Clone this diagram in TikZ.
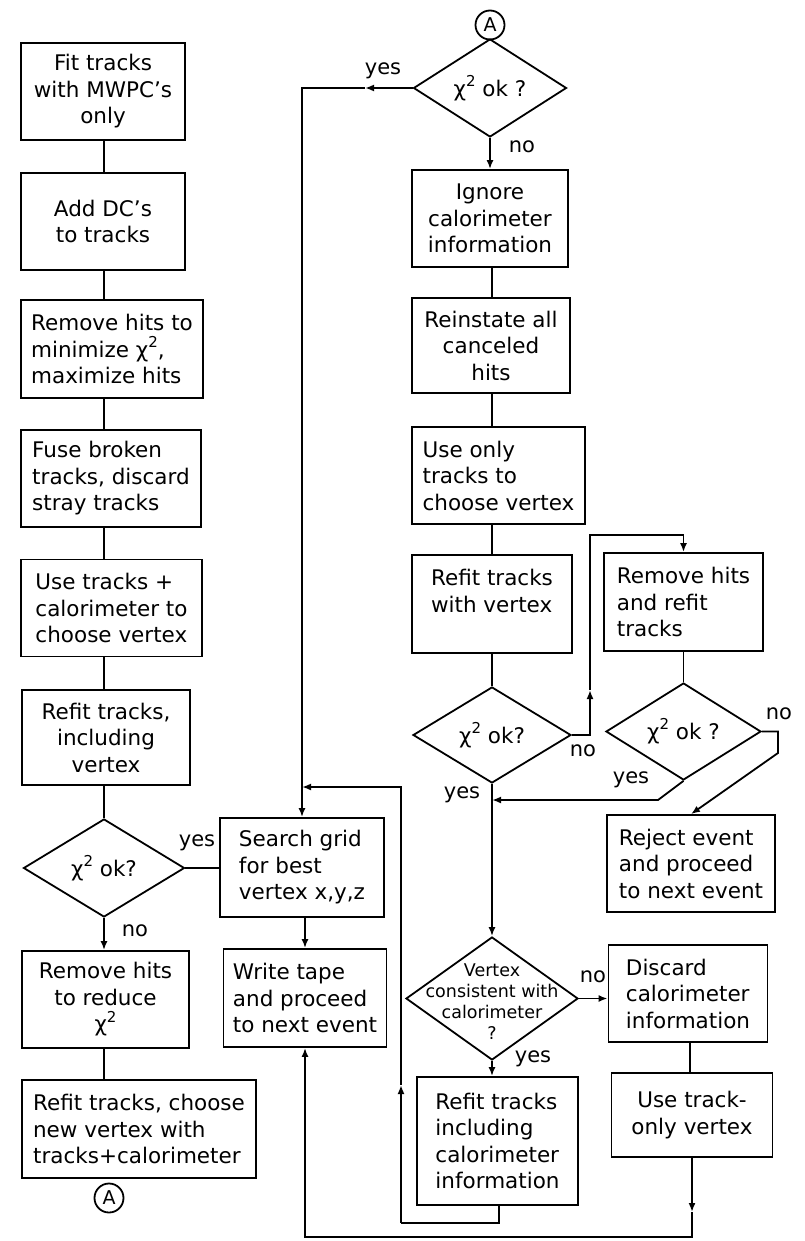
\documentclass[tikz,border=0pt]{standalone}
\usepackage{fontspec}
\setmainfont{DejaVu Sans}
\newcommand{\chisq}{χ\raisebox{0.45em}{\fontsize{15}{15}\selectfont 2}}
\usetikzlibrary{arrows.meta,shapes.geometric}
\begin{document}
\begin{tikzpicture}[x=1pt,y=-1pt,line width=1.8pt,
  every node/.style={font=\fontsize{21.5}{26.5}\selectfont},
  box/.style={draw,rectangle,inner sep=0pt},
  lbox/.style={box,align=left},
  cbox/.style={box,align=center},
  dec/.style={draw,diamond,inner sep=0pt},
  dtext/.style={align=center,inner sep=0pt},
  conn/.style={draw,circle,inner sep=0pt,minimum size=29pt,font=\fontsize{19}{19}\selectfont},
  tip/.style={-{Latex[length=9pt,width=7pt]}},
  lab/.style={inner sep=0pt,font=\fontsize{21}{21}\selectfont}]
\useasboundingbox (0,0) rectangle (805,1241);
\coordinate (lx) at (104,0);
\coordinate (mx) at (492,0);
\coordinate (rx) at (690,0);
% ---------- left column ----------
\node[cbox,minimum width=164pt,minimum height=97pt] (b1) at (103,91.5) {Fit tracks\\with MWPC’s\\only};
\node[cbox,minimum width=164pt,minimum height=97pt] (b2) at (103,221.5) {Add DC’s\\to tracks};
\node[lbox,minimum width=182pt,minimum height=98pt] (b3) at (112,349) {Remove hits to\\minimize \chisq,\\maximize hits};
\node[lbox,minimum width=180pt,minimum height=97pt] (b4) at (111,478.5) {Fuse broken\\tracks, discard\\stray tracks};
\node[lbox,minimum width=181pt,minimum height=97pt] (b5) at (111.5,608) {Use tracks +\\calorimeter to\\choose vertex};
\node[cbox,minimum width=168pt,minimum height=95pt] (b6) at (106,737.5) {Refit tracks,\\including\\vertex};
\node[dec,minimum width=161pt,minimum height=98pt] (d1) at (104,868) {};
\node[dtext] (d1t) at (d1) {\chisq\ ok?};
\node[cbox,minimum width=167pt,minimum height=97pt] (b7) at (105.5,999.5) {Remove hits\\to reduce\\\chisq};
\node[lbox,minimum width=234pt,minimum height=98pt] (b8) at (139,1129) {Refit tracks, choose\\new vertex with\\tracks+calorimeter};
\node[conn] (A1) at (109,1198) {A};
% ---------- middle column ----------
\node[lbox,minimum width=164pt,minimum height=99pt] (sg) at (302,867.5) {Search grid\\for best\\vertex x,y,z};
\node[lbox,minimum width=163pt,minimum height=98pt] (wt) at (305,998) {Write tape\\and proceed\\to next event};
% ---------- right column ----------
\node[conn] (A2) at (490,25) {A};
\node[dec,minimum width=153pt,minimum height=98pt] (d2) at (490,88) {};
\node[dtext] (d2t) at (d2) {\chisq\ ok ?};
\node[cbox,minimum width=156pt,minimum height=97pt] (ig) at (490,218.5) {Ignore\\calorimeter\\information};
\node[cbox,minimum width=158pt,minimum height=95pt] (ri) at (491,345.5) {Reinstate all\\canceled\\hits};
\node[lbox,minimum width=173pt,minimum height=97pt] (uo) at (498.5,475.5) {Use only\\tracks to\\choose vertex};
\node[lbox,minimum width=160pt,minimum height=98pt] (rv) at (492,604) {Refit tracks\\with vertex\\\mbox{}};
\node[lbox,minimum width=159pt,minimum height=98pt] (rh) at (683.5,602) {Remove hits\\and refit\\tracks};
\node[dec,minimum width=158pt,minimum height=96pt] (d3) at (492,735) {};
\node[dtext] (d3t) at (d3) {\chisq\ ok?};
\node[dec,minimum width=155pt,minimum height=97pt] (d4) at (683.5,731.5) {};
\node[dtext] (d4t) at (d4) {\chisq\ ok ?};
\node[lbox,minimum width=168pt,minimum height=97pt] (rj) at (691,863.5) {Reject event\\and proceed\\to next event};
\node[dec,minimum width=172pt,minimum height=123pt] (d5) at (492,998.5) {};
\node[dtext,font=\fontsize{17.5}{21}\selectfont] (d5t) at (492,1002) {Vertex\\consistent with\\calorimeter\\?};
\node[lbox,minimum width=159pt,minimum height=97pt] (dc) at (688,993.5) {Discard\\calorimeter\\information};
\node[lbox,minimum width=161pt,minimum height=128pt] (ri2) at (497.5,1141) {Refit tracks\\including\\calorimeter\\information};
\node[cbox,minimum width=161pt,minimum height=84pt] (ut) at (692,1115) {Use track-\\only vertex};
% ---------- labels ----------
\node[lab] (l1) at (383,71) {yes};
\node[lab] (l2) at (522,147) {no};
\node[lab] (l3) at (197,843) {yes};
\node[lab] (l4) at (135,931) {no};
\node[lab] (l5) at (583,751) {no};
\node[lab] (l6) at (779,714) {no};
\node[lab] (l7) at (631,780) {yes};
\node[lab] (l8) at (462,795) {yes};
\node[lab] (l9) at (593,977) {no};
\node[lab] (l10) at (533,1059) {yes};
% ---------- connectors: left column ----------
\draw (b1.south -| lx) -- (b2.north -| lx);
\draw (b2.south -| lx) -- (b3.north -| lx);
\draw (b3.south -| lx) -- (b4.north -| lx);
\draw (b4.south -| lx) -- (b5.north -| lx);
\draw (b5.south -| lx) -- (b6.north -| lx);
\draw (b6.south -| lx) -- (d1.north);
\draw[tip] (d1.south) -- (b7.north -| d1.south);
\draw (b7.south -| lx) -- (b8.north -| lx);
\draw (d1.east) -- (d1.east -| sg.west);
% ---------- connectors: top yes branch ----------
\coordinate (c1) at (365,88);
\coordinate (c2) at (302,88);
\draw[tip] (d2.west) -- (c1);
\draw[tip] (c1) -- (c2) -- (sg.north);
\draw[tip] (sg.south -| wt.north) -- (wt.north);
% ---------- connectors: right column ----------
\draw[tip] (d2.south) -- (ig.north -| d2.south);
\draw (ig.south -| mx) -- (ri.north -| mx);
\draw (ri.south -| mx) -- (uo.north -| mx);
\draw (uo.south -| mx) -- (rv.north -| mx);
\draw (rv.south -| mx) -- (d3.north);
\coordinate (k1) at (590,735);
\coordinate (k2) at (590,690);
\coordinate (k3) at (590,535);
\coordinate (k4) at (683.5,535);
\draw[tip] (d3.east) -- (k1) -- (k2);
\draw[tip] (k2) -- (k3) -- (k4) -- (rh.north);
\draw (rh.south) -- (d4.north);
\coordinate (k5) at (778,731.5);
\coordinate (k6) at (778,753);
\draw[tip] (d4.east) -- (k5) -- (k6) -- (rj.north);
\coordinate (k7) at (658,800);
\draw[tip] (d4.south) -- (k7) -- (k7 -| mx);
\draw[tip] (d3.south) -- (d5.north);
\draw[tip] (d5.east) -- (d5.east -| dc.west);
\draw[tip] (d5.south) -- (ri2.north -| d5.south);
\draw (dc.south -| rx) -- (ut.north -| rx);
% ---------- bottom return paths ----------
\coordinate (k8) at (692,1212);
\coordinate (k9) at (692,1237);
\coordinate (k10) at (305,1237);
\draw[tip] (ut.south) -- (k8);
\draw[tip] (k8) -- (k9) -- (k10) -- (wt.south);
\coordinate (k11) at (499,1223);
\coordinate (k12) at (401,1223);
\coordinate (k13) at (401,1085);
\coordinate (k14) at (401,787);
\draw (ri2.south -| k11) -- (k11) -- (k12);
\draw[tip] (k12) -- (k13);
\draw[tip] (k13) -- (k14) -- (k14 -| sg.north);
\end{tikzpicture}
\end{document}
